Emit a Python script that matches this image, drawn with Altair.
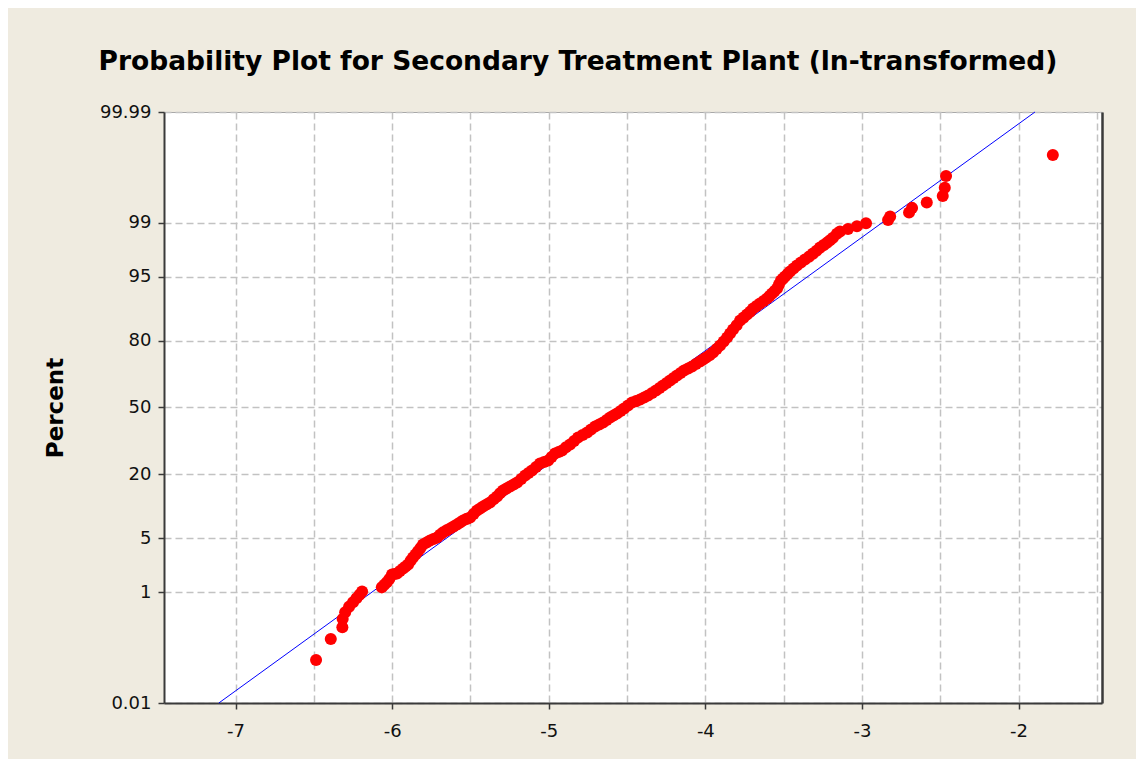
import altair as alt
import pandas as pd
from statistics import NormalDist

nd = NormalDist()

# ---- data (x = ln value, pct = plotted percent) ----
pct_lower = [0.074, 0.178, 0.284, 0.39, 0.50, 0.61, 0.71, 0.82, 0.92, 1.03]
x_lower = [-6.486, -6.392, -6.318, -6.316, -6.300, -6.275, -6.250, -6.228, -6.208, -6.192]

pct_mid = [1.18, 1.39, 1.78, 1.84, 2.14, 2.41, 2.96, 3.51, 4.24, 4.72,
           5.10, 5.80, 6.40, 7.05, 7.76, 8.32, 9.75, 10.66, 11.6, 13.16,
           14.83, 16.01, 17.28, 19.62, 21.41, 24.07, 25.24, 28.14, 29.43, 32.09,
           35.30, 37.67, 40.55, 42.51, 45.0, 47.0, 49.5, 52.5, 54.0, 56.0,
           58.47, 60.9, 63.3, 65.64, 67.9, 69.7, 71.86, 73.53, 75.55, 78.23,
           81.08, 83.67, 86.31, 87.90, 89.34, 90.46, 91.48, 92.42, 93.28, 94.49,
           95.03, 95.65, 96.30, 96.87, 97.36, 97.79, 98.10, 98.37]
x_mid = [-6.066, -6.034, -6.001, -5.969, -5.930, -5.898, -5.867, -5.835, -5.803, -5.758,
         -5.713, -5.675, -5.630, -5.586, -5.547, -5.502, -5.458, -5.419, -5.375, -5.330,
         -5.292, -5.247, -5.202, -5.151, -5.107, -5.056, -5.004, -4.960, -4.915, -4.864,
         -4.813, -4.755, -4.704, -4.653, -4.608, -4.564, -4.519, -4.468, -4.417, -4.366,
         -4.315, -4.270, -4.225, -4.181, -4.136, -4.085, -4.034, -3.995, -3.951, -3.906,
         -3.861, -3.823, -3.778, -3.734, -3.695, -3.651, -3.606, -3.574, -3.542, -3.517,
         -3.491, -3.459, -3.415, -3.364, -3.313, -3.268, -3.223, -3.185]

# further dots read inside the dense band
pct_band = [1.28, 1.55, 1.81, 1.98, 2.27, 2.68, 3.22, 3.86, 4.47, 4.90,
            5.45, 6.10, 6.72, 7.40, 8.05, 9.00, 10.2, 11.1, 12.4, 14.0,
            15.4, 16.6, 18.4, 20.5, 22.7, 24.6, 26.7, 28.8, 30.8, 33.7,
            36.5, 39.1, 41.5, 43.7, 46.0, 48.2, 51.0, 53.2, 55.0, 57.2,
            59.7, 62.1, 64.5, 66.8, 68.8, 70.8, 72.7, 74.5, 76.9, 79.7,
            82.4, 85.0, 87.1, 88.6, 89.9, 91.0, 91.95, 92.85, 93.9, 94.76,
            95.34, 95.98, 96.59, 97.12, 97.58, 97.95, 98.24]
x_band = [-6.050, -6.018, -5.985, -5.950, -5.914, -5.882, -5.851, -5.819, -5.780, -5.736,
          -5.694, -5.652, -5.608, -5.566, -5.524, -5.480, -5.438, -5.397, -5.352, -5.311,
          -5.270, -5.224, -5.176, -5.129, -5.081, -5.030, -4.982, -4.937, -4.890, -4.838,
          -4.784, -4.730, -4.678, -4.630, -4.586, -4.541, -4.494, -4.442, -4.391, -4.340,
          -4.292, -4.247, -4.203, -4.158, -4.110, -4.060, -4.014, -3.973, -3.928, -3.883,
          -3.842, -3.800, -3.756, -3.714, -3.673, -3.628, -3.590, -3.558, -3.530, -3.504,
          -3.475, -3.437, -3.390, -3.338, -3.290, -3.245, -3.204]

pct_upper = [98.56, 98.665, 98.77, 98.875, 98.98, 99.085, 99.19, 99.295, 99.40,
             99.505, 99.61, 99.716, 99.821, 99.926]
x_upper = [-3.160, -3.140, -3.089, -3.032, -2.974, -2.833, -2.820, -2.699, -2.680,
           -2.586, -2.484, -2.471, -2.463, -1.781]

# fitted reference line (end points)
line_x = [-7.107, -1.895]
line_pct = [0.01, 99.99]

# axes
y_tick_pct = [0.01, 1, 5, 20, 50, 80, 95, 99, 99.99]
x_grid_vals = [-7.0, -6.5, -6.0, -5.5, -5.0, -4.5, -4.0, -3.5, -3.0, -2.5, -2.0, -1.5]
x_domain = [-7.457, -1.467]

title_text = "Probability Plot for Secondary Treatment Plant (ln-transformed)"

# ---- build tables ----
pct_all = pct_lower + pct_mid + pct_band + pct_upper
x_all = x_lower + x_mid + x_band + x_upper
assert len(pct_all) == len(x_all)

pts = pd.DataFrame({"x": x_all, "pct": pct_all})
pts["z"] = [nd.inv_cdf(p / 100.0) for p in pct_all]

ln = pd.DataFrame({"x": line_x, "pct": line_pct})
ln["z"] = [nd.inv_cdf(p / 100.0) for p in line_pct]

y_tick_z = [nd.inv_cdf(p / 100.0) for p in y_tick_pct]
y_domain = [y_tick_z[0], y_tick_z[-1]]

FONT = "DejaVu Sans"
DARK = "#3a3a3a"

x_axis = alt.Axis(
    values=x_grid_vals,
    labelExpr="abs(datum.value % 1) > 0.01 ? '' : '-' + abs(datum.value)",
    tickOpacity={"condition": {"test": "abs(datum.value % 1) > 0.01", "value": 0}, "value": 1},
    title=None,
    labelFont=FONT, labelFontSize=18, labelColor="#111111", labelPadding=13,
    tickSize=6, tickColor=DARK, tickWidth=1.5,
    domainColor=DARK, domainWidth=2,
    grid=True, gridColor="#c2c2c2", gridDash=[7, 4], gridWidth=1.5,
)

y_axis = alt.Axis(
    values=y_tick_z,
    labelExpr="datum.value < -3 ? '0.01' : (datum.value > 3 ? '99.99' : format(cumulativeNormal(datum.value) * 100, '.0f'))",
    title="Percent",
    titleFont=FONT, titleFontSize=23, titleFontWeight="bold", titleColor="#000000",
    titleX=-109, titleBaseline="middle",
    labelFont=FONT, labelFontSize=18, labelColor="#111111", labelPadding=7,
    tickSize=6, tickColor=DARK, tickWidth=1.5,
    domainColor=DARK, domainWidth=2,
    grid=True, gridColor="#c2c2c2", gridDash=[7, 4], gridWidth=1.5,
)

xs = alt.Scale(domain=x_domain, nice=False, zero=False)
ys = alt.Scale(domain=y_domain, nice=False, zero=False)

line = alt.Chart(ln).mark_line(color="#0000ff", strokeWidth=1).encode(
    x=alt.X("x:Q", scale=xs, axis=x_axis),
    y=alt.Y("z:Q", scale=ys, axis=alt.Axis(orient="right", labels=False, ticks=False,
                                            grid=False, title=None,
                                            domainColor=DARK, domainWidth=2.5)),
)

points = alt.Chart(pts).mark_circle(color="#ff0000", size=145, opacity=1).encode(
    x=alt.X("x:Q", scale=xs, axis=x_axis),
    y=alt.Y("z:Q", scale=ys, axis=y_axis),
)

chart = alt.layer(line, points).resolve_axis(y="independent").properties(
    width=938,
    height=591,
    title=alt.TitleParams(
        text=title_text, font=FONT, fontSize=26.5, fontWeight="bold", color="#000000",
        anchor="middle", frame="group", dx=-55, offset=7, baseline="alphabetic",
    ),
    background="#efebe0",
    padding={"left": 156, "top": 104, "right": 34, "bottom": 56},
    autosize=alt.AutoSizeParams(type="none"),
).configure_view(fill="white", stroke="#a8a8a8", strokeWidth=1)

chart.save("out.html", embed_options={"renderer": "svg", "actions": False})
